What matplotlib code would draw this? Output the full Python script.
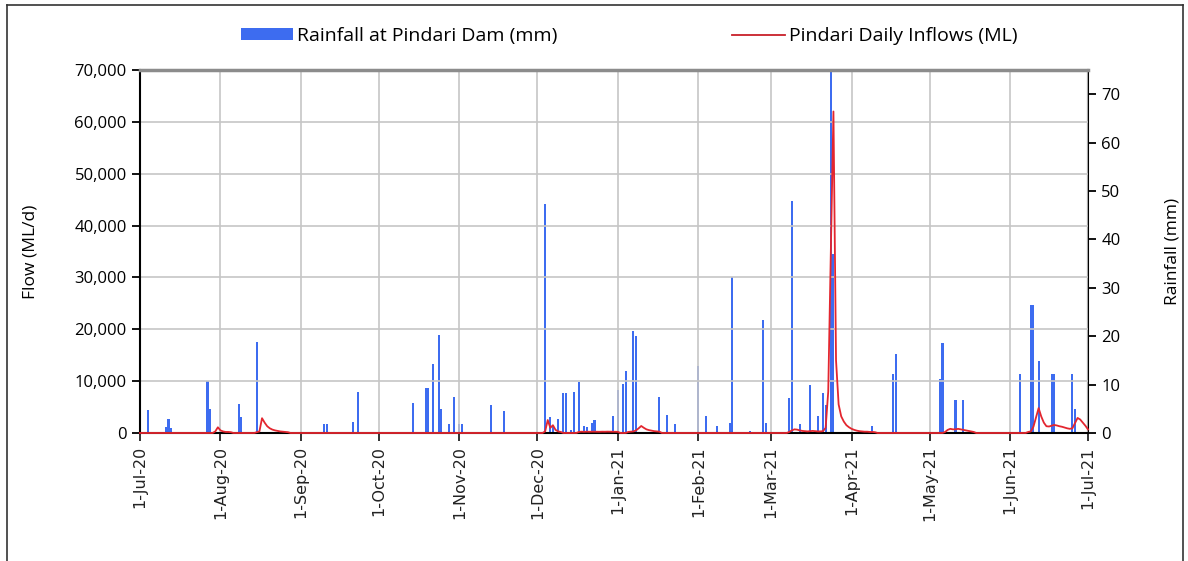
import datetime as dt

import numpy as np
import pandas as pd
import matplotlib
matplotlib.use("Agg")
import matplotlib.pyplot as plt
import matplotlib.dates as mdates
from matplotlib.lines import Line2D
from matplotlib.patches import Patch
from matplotlib.ticker import FuncFormatter, MultipleLocator

plt.rcParams["font.family"] = ["Open Sans", "DejaVu Sans"]

# daily rainfall at the dam (mm), only wet days listed
rain_dates = [
    "2020-07-04", "2020-07-11", "2020-07-12", "2020-07-13", "2020-07-27", "2020-07-28",
    "2020-08-08", "2020-08-09", "2020-08-15", "2020-09-10", "2020-09-11", "2020-09-21",
    "2020-09-23", "2020-10-14", "2020-10-19", "2020-10-20", "2020-10-22", "2020-10-24",
    "2020-10-25", "2020-10-28", "2020-10-30", "2020-11-01", "2020-11-02", "2020-11-13",
    "2020-11-18", "2020-12-04", "2020-12-06", "2020-12-07", "2020-12-09", "2020-12-11",
    "2020-12-12", "2020-12-14", "2020-12-15", "2020-12-17", "2020-12-19", "2020-12-20",
    "2020-12-22", "2020-12-23", "2020-12-30", "2021-01-01", "2021-01-03", "2021-01-04",
    "2021-01-07", "2021-01-08", "2021-01-17", "2021-01-20", "2021-01-23", "2021-02-01",
    "2021-02-04", "2021-02-08", "2021-02-13", "2021-02-14", "2021-02-21", "2021-02-26",
    "2021-02-27", "2021-03-01", "2021-03-08", "2021-03-09", "2021-03-12", "2021-03-16",
    "2021-03-19", "2021-03-21", "2021-03-22", "2021-03-24", "2021-03-25", "2021-04-09",
    "2021-04-17", "2021-04-18", "2021-04-24", "2021-05-05", "2021-05-06", "2021-05-11",
    "2021-05-14", "2021-06-05", "2021-06-09", "2021-06-10", "2021-06-12", "2021-06-17",
    "2021-06-18", "2021-06-25", "2021-06-26",
]
rain_mm = [
    4.8, 1.2, 2.9, 1.0, 10.8, 4.9,
    6.0, 3.3, 18.8, 1.9, 1.9, 2.3,
    8.5, 6.2, 9.3, 9.3, 14.2, 20.2,
    4.9, 1.9, 7.5, 1.9, 1.9, 5.8,
    4.6, 47.4, 3.2, 1.4, 2.9, 8.2,
    8.2, 0.6, 8.5, 10.6, 1.4, 1.2,
    2.1, 2.7, 3.6, 8.9, 10.1, 12.8,
    21.1, 20.0, 7.5, 3.8, 1.9, 13.8,
    3.5, 1.4, 2.1, 32.3, 0.4, 23.3,
    2.1, 0.3, 7.2, 47.9, 1.9, 9.9,
    3.5, 8.2, 5.8, 76.0, 37.0, 1.4,
    12.1, 16.4, 0.3, 11.1, 18.5, 6.9,
    6.9, 12.1, 26.4, 26.4, 14.8, 12.1,
    12.1, 12.1, 4.9,
]

# daily inflows (ML), days not listed had no inflow
inflow_dates = [
    "2020-07-30", "2020-07-31", "2020-08-01", "2020-08-02", "2020-08-03", "2020-08-04",
    "2020-08-05", "2020-08-15", "2020-08-16", "2020-08-17", "2020-08-18", "2020-08-19",
    "2020-08-20", "2020-08-21", "2020-08-22", "2020-08-23", "2020-08-24", "2020-08-25",
    "2020-08-26", "2020-08-27",
    "2020-12-04", "2020-12-05", "2020-12-06", "2020-12-07", "2020-12-08", "2020-12-09",
    "2020-12-10", "2020-12-17", "2020-12-18", "2020-12-19", "2020-12-20", "2020-12-21",
    "2020-12-22", "2020-12-23", "2020-12-24", "2020-12-25", "2020-12-26", "2020-12-27",
    "2020-12-28", "2020-12-29", "2020-12-30", "2020-12-31", "2021-01-01",
    "2021-01-05", "2021-01-06", "2021-01-07", "2021-01-08", "2021-01-09", "2021-01-10",
    "2021-01-11", "2021-01-12", "2021-01-13", "2021-01-14", "2021-01-15", "2021-01-16",
    "2021-01-17",
    "2021-03-08", "2021-03-09", "2021-03-10", "2021-03-11", "2021-03-12", "2021-03-13",
    "2021-03-14", "2021-03-15", "2021-03-16", "2021-03-17", "2021-03-18", "2021-03-19",
    "2021-03-20", "2021-03-21", "2021-03-22", "2021-03-23", "2021-03-24", "2021-03-25",
    "2021-03-26", "2021-03-27", "2021-03-28", "2021-03-29", "2021-03-30", "2021-03-31",
    "2021-04-01", "2021-04-02", "2021-04-03", "2021-04-04", "2021-04-05", "2021-04-06",
    "2021-04-07", "2021-04-08", "2021-04-09", "2021-04-10",
    "2021-05-07", "2021-05-08", "2021-05-09", "2021-05-10", "2021-05-11", "2021-05-12",
    "2021-05-13", "2021-05-14", "2021-05-15", "2021-05-16", "2021-05-17", "2021-05-18",
    "2021-06-08", "2021-06-09", "2021-06-10", "2021-06-11", "2021-06-12", "2021-06-13",
    "2021-06-14", "2021-06-15", "2021-06-16", "2021-06-17", "2021-06-18", "2021-06-19",
    "2021-06-20", "2021-06-21", "2021-06-22", "2021-06-23", "2021-06-24", "2021-06-25",
    "2021-06-26", "2021-06-27", "2021-06-28", "2021-06-29", "2021-06-30", "2021-07-01",
]
inflow_ml = [
    300, 1100, 500, 300, 200, 200,
    150, 150, 300, 2850, 2000, 1300,
    900, 650, 500, 400, 300, 250,
    200, 150,
    300, 2500, 1000, 1500, 600, 300,
    200, 200, 250, 220, 250, 230,
    250, 240, 250, 230, 250, 240,
    260, 250, 240, 250, 220,
    200, 250, 300, 500, 900, 1350,
    1000, 700, 550, 450, 350, 300,
    250,
    200, 500, 700, 650, 500, 400,
    350, 300, 350, 400, 350, 300,
    300, 350, 1000, 8000, 35000, 62000,
    14000, 5500, 3200, 2200, 1500, 1100,
    800, 600, 450, 350, 300, 250,
    250, 200, 200, 150,
    200, 600, 800, 700, 700, 800,
    700, 600, 500, 400, 300, 200,
    200, 300, 1200, 3000, 4800, 3200,
    2000, 1300, 1250, 1400, 1550, 1450,
    1300, 1200, 1050, 900, 800, 900,
    1900, 2900, 2600, 2000, 1400, 700,
]

BLUE = "#3d6cf0"
RED = "#e3262f"
FONT_SIZE = 12
LEGEND_SIZE = 14

days = pd.date_range("2020-07-01", "2021-07-01", freq="D")
inflow = pd.Series(inflow_ml, index=pd.to_datetime(inflow_dates)).reindex(days, fill_value=0)

fig = plt.figure(figsize=(11.88, 5.61), dpi=100)
ax = fig.add_axes([0.1178, 0.2282, 0.798, 0.647])
ax_rain = ax.twinx()
ax.set_zorder(2)
ax_rain.set_zorder(1)
ax.patch.set_visible(False)

# rainfall bars on the right-hand axis
ax_rain.bar(pd.to_datetime(rain_dates), rain_mm, width=0.8, color=BLUE,
            linewidth=0, align="center")
ax_rain.set_ylim(0, 75)
ax_rain.yaxis.set_major_locator(MultipleLocator(10))
ax_rain.set_ylabel("Rainfall (mm)", fontsize=12.5, labelpad=32)

# inflows on the left-hand axis
ax.plot(inflow.index, inflow.values, color=RED, linewidth=1.3, zorder=3,
        clip_on=False)
ax.set_ylim(0, 70000)
ax.yaxis.set_major_locator(MultipleLocator(10000))
ax.yaxis.set_major_formatter(FuncFormatter(lambda v, _: f"{v:,.0f}"))
ax.set_ylabel("Flow (ML/d)", fontsize=12.5, labelpad=26)

ax.set_xlim(dt.date(2020, 7, 1), dt.date(2021, 7, 1))
ax.xaxis.set_major_locator(mdates.MonthLocator())
ax.xaxis.set_major_formatter(
    FuncFormatter(lambda v, _: f"{mdates.num2date(v).day}-{mdates.num2date(v):%b-%y}"))
for lab in ax.get_xticklabels():
    lab.set_fontfamily("DejaVu Sans")

ax.grid(True, color="#c6c6c6", linewidth=1.2)
ax.tick_params(axis="x", labelrotation=90, labelsize=11.5, length=6, width=1.3,
               direction="out", colors="#222222")
ax.tick_params(axis="y", labelsize=FONT_SIZE, length=6, width=1.3, direction="out")
ax_rain.tick_params(axis="y", labelsize=FONT_SIZE, length=6, width=1.3, direction="out")

for side in ("left", "bottom"):
    ax.spines[side].set_linewidth(1.5)
    ax.spines[side].set_color("black")
ax.spines["right"].set_visible(False)
ax.spines["top"].set_color("#8c8c8c")
ax.spines["top"].set_linewidth(2.5)
for side in ("left", "top", "bottom"):
    ax_rain.spines[side].set_visible(False)
ax_rain.spines["right"].set_linewidth(1.5)

handles = [Patch(facecolor=BLUE, edgecolor="none"),
           Line2D([], [], color="#c8202a", linewidth=1.3)]
fig.legend(handles, ["Rainfall at Pindari Dam (mm)", "Pindari Daily Inflows (ML)"],
           loc="center", bbox_to_anchor=(0.5295, 0.936), ncol=2, frameon=False,
           fontsize=LEGEND_SIZE, handlelength=2.7, handleheight=0.55, handletextpad=0.2,
           columnspacing=9.0)

# thin frame around the whole chart
frame_kw = dict(color="#333333", linewidth=1.2, transform=fig.transFigure)
x0, x1 = 7 / 1188, 1183 / 1188
ytop = 1 - 5 / 561
fig.add_artist(Line2D([x0, x0], [0, ytop], **frame_kw))
fig.add_artist(Line2D([x0, x1], [ytop, ytop], **frame_kw))
fig.add_artist(Line2D([x1, x1], [0, ytop], **frame_kw))

fig.savefig("out.png", dpi=100)
plt.close(fig)
